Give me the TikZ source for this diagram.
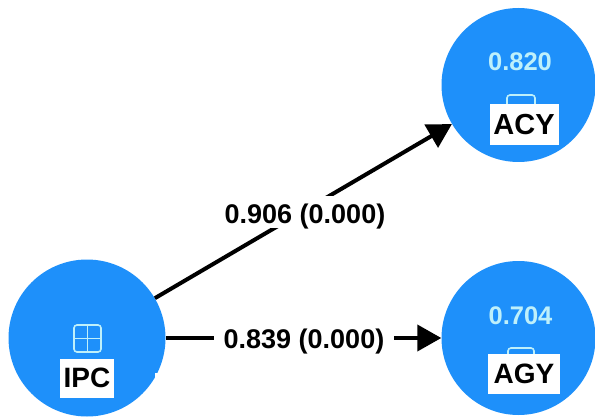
\documentclass[tikz,border=0pt]{standalone}
\usepackage{fontspec}
\setmainfont{Liberation Sans}
\usetikzlibrary{arrows.meta}
\definecolor{lvblue}{RGB}{30,144,250}
\definecolor{lvpale}{RGB}{190,240,250}
\tikzset{
  x=1pt,y=-1pt,
  latent/.style={circle,fill=lvblue,draw=none,minimum size=#1,inner sep=0pt},
  rsq/.style={font=\bfseries\fontsize{25.5}{26}\selectfont,text=lvpale,inner sep=0pt},
  tag/.style={fill=white,text=black,font=\bfseries\fontsize{#1}{30}\selectfont,inner sep=0pt},
  coef/.style={fill=white,text=black,font=\bfseries\fontsize{27}{28}\selectfont,inner sep=0pt,minimum width=180,text height=27pt,text depth=5pt},
  path1/.style={line width=4pt,-{Triangle[length=24pt,width=26pt]}},
  glyph/.style={draw=lvpale,line width=1.6pt,fill=none,rounded corners=3pt}
}
\begin{document}
\begin{tikzpicture}
\useasboundingbox (0,0) rectangle (595,417);
\fill[white] (0,0) rectangle (595,417);
\node[latent=154] (acy) at (518.5,85) {};
\node[latent=154] (agy) at (518.5,338) {};
\node[latent=157] (ipc) at (87,338) {};
\fill[white] (155,373) rectangle (180,417);
\draw[path1] (ipc) -- (acy);
\draw[path1] (ipc) -- (agy);
\node[coef] (l1) at (305,212) {0.906 (0.000)};
\node[coef] (l2) at (304,337) {0.839 (0.000)};
\node[rsq] (r1) at (520,62) {0.820};
\node[rsq] (r2) at (520.5,316) {0.704};
\draw[glyph] (507,108) rectangle (535,95);
\draw[glyph] (508,358) rectangle (534,348);
\node[tag=29,minimum width=69,minimum height=41] (t1) at (524,124.5) {ACY};
\node[tag=28,minimum width=72,minimum height=40] (t2) at (524,374) {AGY};
\node[tag=28,minimum width=54,minimum height=39] (t3) at (87,378) {IPC};
\draw[glyph] (74,325) rectangle (101,352);
\draw[draw=lvpale,line width=1.3pt] (87.5,325) -- (87.5,352) (74,338.5) -- (101,338.5);
\end{tikzpicture}
\end{document}
